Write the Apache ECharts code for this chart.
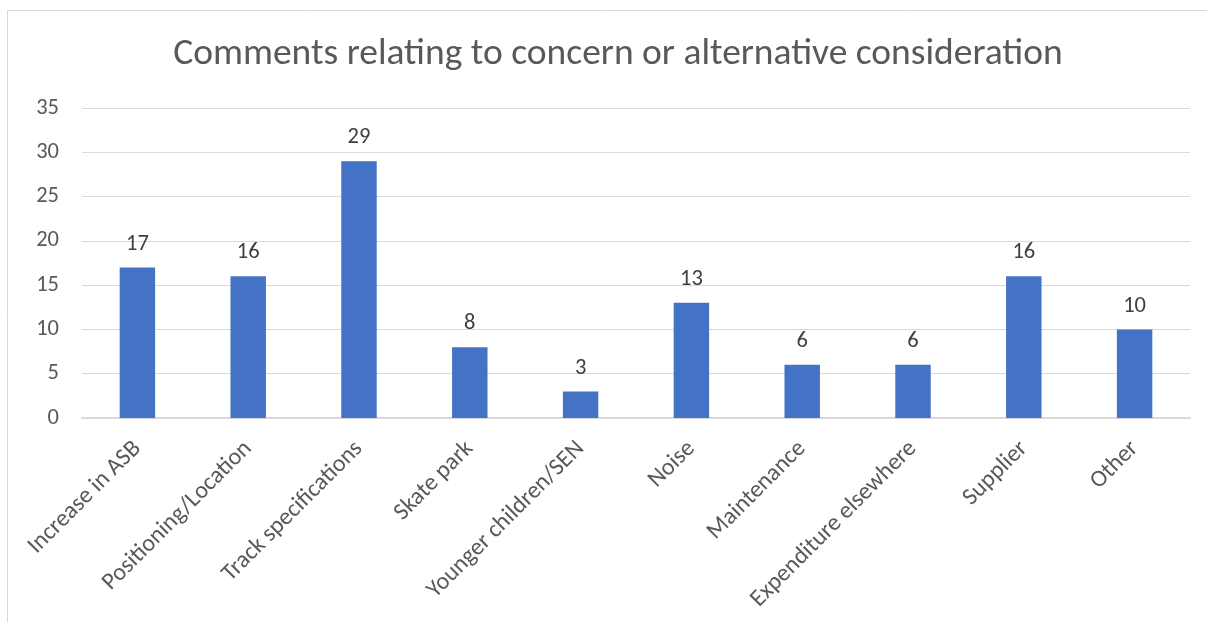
<!DOCTYPE html>
<html><head><meta charset="utf-8">
<script src="https://cdn.jsdelivr.net/npm/echarts@6/dist/echarts.min.js"></script>
<style>html,body{margin:0;padding:0;background:#fff}#c{width:1207px;height:622px}</style>
</head><body><div id="c"></div>
<script>
const titleText = 'Comments relating to concern or alternative consideration';
const categories = ['Increase in ASB','Positioning/Location','Track specifications','Skate park','Younger children/SEN','Noise','Maintenance','Expenditure elsewhere','Supplier','Other'];
const values = [17,16,29,8,3,13,6,6,16,10];
const yMin = 0, yMax = 35, yStep = 5;
const FONT = 'Carlito, Calibri, "Liberation Sans", sans-serif';

const chart = echarts.init(document.getElementById('c'));
chart.setOption({
  animation: false,
  backgroundColor: '#fff',
  graphic: [{type:'rect', shape:{x:7.5,y:10.5,width:1220,height:640}, style:{fill:'none', stroke:'#d9d9d9', lineWidth:1}, silent:true}],
  title: {text: titleText, left: 613, top: 31, textAlign:'center',
    textStyle:{fontFamily: FONT, fontSize: 37.5, fontWeight:'normal', color:'#595959'}},
  grid: {left: 82, right: 17, top: 108, bottom: 204, containLabel:false},
  xAxis: {type:'category', data: categories,
    axisLine:{lineStyle:{color:'#d9d9d9', width:2}}, axisTick:{show:false},
    axisLabel:{rotate:45, interval:0, margin:27, fontFamily: FONT, fontSize:24, color:'#595959'}},
  yAxis: {type:'value', min:yMin, max:yMax, interval:yStep,
    axisLine:{show:false}, axisTick:{show:false},
    splitLine:{lineStyle:{color:'#d9d9d9', width:1}},
    axisLabel:{margin:23, fontFamily: FONT, fontSize:22.5, color:'#595959'}},
  series: [{type:'bar', data: values, barWidth:'32%',
    itemStyle:{color:'#4472c4'},
    label:{show:true, position:'top', distance:12, fontFamily: FONT, fontSize:22.5, color:'#404040'}}]
});
</script></body></html>
